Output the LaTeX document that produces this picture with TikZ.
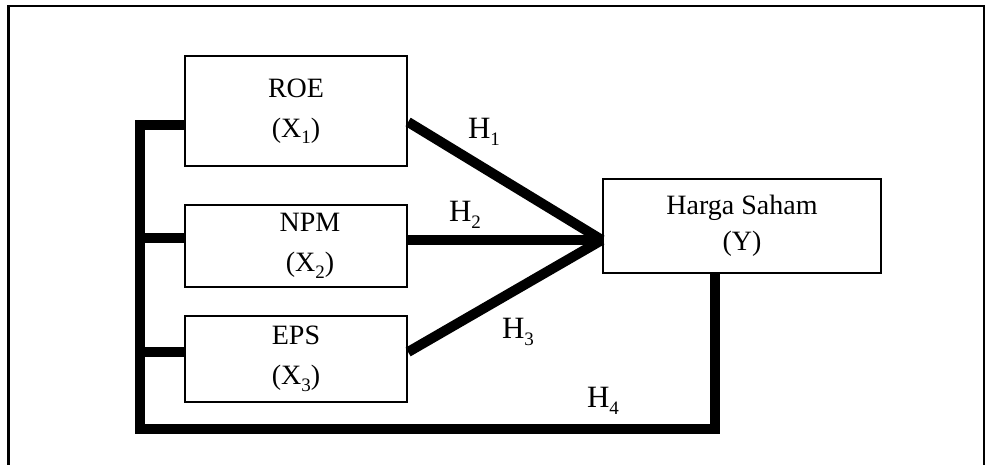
\documentclass[tikz,border=0pt]{standalone}
\usepackage{fontspec}
\setmainfont{Liberation Serif}
\newcommand{\lowsub}[1]{\raisebox{-0.5ex}{\fontsize{19}{19}\selectfont #1}}
\begin{document}
\begin{tikzpicture}[x=1pt,y=-1pt,
  box/.style={draw,line width=2.2pt,rectangle,align=center,inner sep=0pt,
    font=\fontsize{28}{40}\selectfont},
  bus/.style={line width=10pt,line join=miter},
  hlab/.style={font=\fontsize{31}{31}\selectfont,inner sep=0pt},
  frame/.style={line width=2.5pt}]
\useasboundingbox (0,0) rectangle (992,465);
% outer frame
\draw[frame] (8.5,465) -- (8.5,6) -- (984,6) -- (984,465);
% boxes
\node[box,minimum width=222pt,minimum height=110pt] (roe) at (296,111) {ROE\\(X\lowsub{1})};
\node[box,minimum width=222pt,minimum height=82pt] (npm) at (296,246) {\hspace*{28pt}NPM\\\hspace*{28pt}(X\lowsub{2})};
\node[box,minimum width=222pt,minimum height=86pt] (eps) at (296,359) {EPS\\(X\lowsub{3})};
\node[box,minimum width=278pt,minimum height=94pt,font=\fontsize{28}{36}\selectfont] (harga) at (742,226) {Harga Saham\\(Y)};
% named points
\coordinate (apex) at ([yshift=-14pt]harga.west);
\coordinate (c1) at (140,125);
\coordinate (c2) at (140,429);
\coordinate (c3) at (715,429);
\coordinate (hb) at ([xshift=-27pt]harga.south);
\coordinate (b2) at (140,238);
\coordinate (b3) at (140,352);
% connectors to Y
\draw[bus] ([yshift=-11pt]roe.east) -- (apex);
\draw[bus] ([yshift=6pt]npm.east) -- (apex);
\draw[bus] ([yshift=7pt]eps.east) -- (apex);
% left bus
\draw[bus] ([yshift=-14pt]roe.west) -- (c1) -- (c2) -- (c3) -- (hb);
\draw[bus] (b2) -- ([yshift=8pt]npm.west);
\draw[bus] (b3) -- ([yshift=7pt]eps.west);
% labels
\node[hlab] (h1) at (484,132) {H\lowsub{1}};
\node[hlab] (h2) at (465,215) {H\lowsub{2}};
\node[hlab] (h3) at (518,332) {H\lowsub{3}};
\node[hlab] (h4) at (603,401) {H\lowsub{4}};
\end{tikzpicture}
\end{document}
